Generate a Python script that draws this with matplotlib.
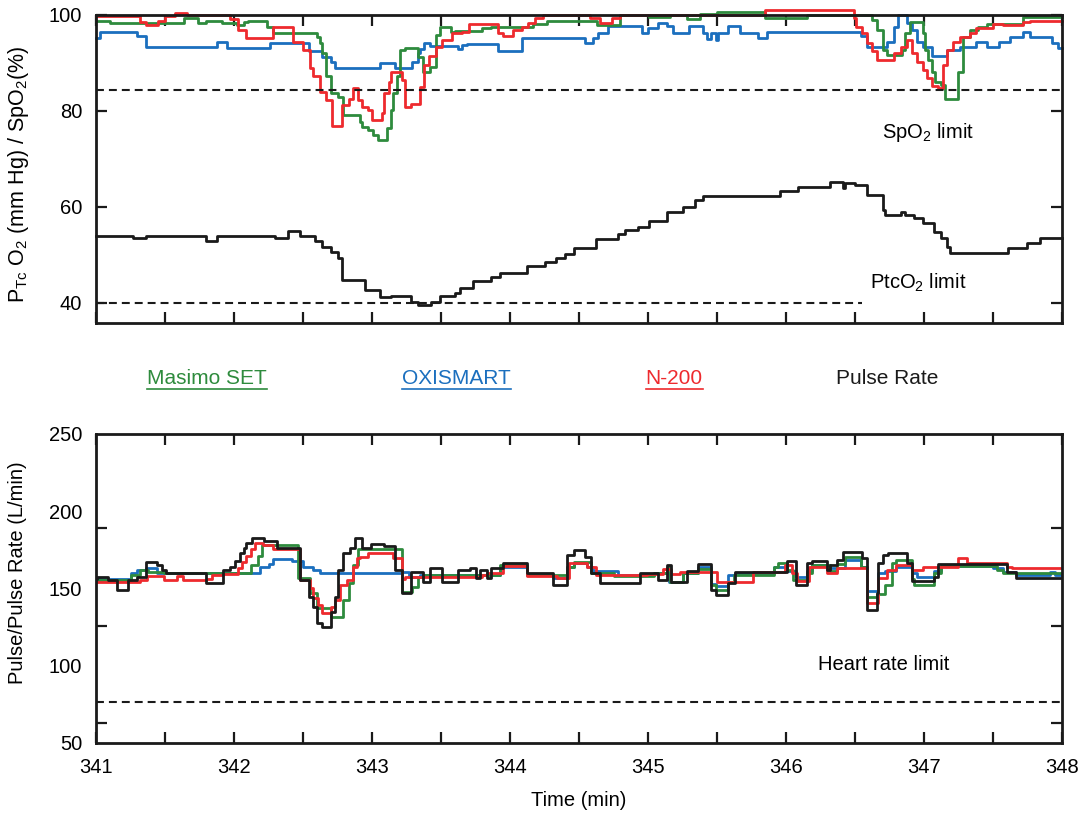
import matplotlib
matplotlib.use("Agg")
import matplotlib.pyplot as plt
from matplotlib.lines import Line2D
from matplotlib.ticker import MultipleLocator, FixedLocator

plt.rcParams['font.family'] = ['Liberation Sans', 'DejaVu Sans']
plt.rcParams['mathtext.default'] = 'regular'

GREEN = "#2e8b3d"
BLUE = "#1b6fbe"
RED = "#ee2a2e"
BLACK = "#1a1a1a"
FS = 14.5

# ---- top panel: SpO2 (%) and PtcO2 (mm Hg) ----
spo2_masimo_t = [341.00, 341.10, 341.64, 341.74, 341.80, 341.91, 342.02, 342.07, 342.10, 342.24,
                 342.28, 342.60, 342.62, 342.64, 342.67, 342.70, 342.75, 342.79, 342.91, 342.93,
                 342.97, 343.01, 343.04, 343.11, 343.14, 343.15, 343.18, 343.20, 343.24, 343.33,
                 343.37, 343.42, 343.46, 343.49, 343.57, 343.60, 343.80, 343.86, 344.17, 344.27,
                 344.63, 344.80, 345.01, 345.16, 345.28, 345.38, 345.50, 345.85, 346.15, 346.62,
                 346.66, 346.70, 346.73, 346.84, 346.86, 346.90, 346.99, 347.01, 347.03, 347.06,
                 347.08, 347.12, 347.15, 347.25, 347.28, 347.33, 347.39, 347.46, 347.72, 348.00]
spo2_masimo = [98.75, 98.3, 99.3, 98.4, 98.8, 98.3, 97.9, 98.5, 98.75, 97.6,
               96.2, 95.5, 94.1, 92.0, 87.2, 83.7, 83.0, 79.2, 77.8, 76.7,
               76.0, 75.0, 74.0, 76.4, 80.2, 83.7, 87.2, 92.7, 93.1, 91.3,
               88.2, 89.2, 95.8, 97.6, 96.5, 96.7, 97.2, 97.6, 98.1, 98.8,
               97.9, 100.0, 99.5, 100.0, 99.1, 100.3, 100.6, 99.3, 100.0, 99.0,
               96.9, 92.7, 91.7, 92.7, 96.2, 98.6, 96.2, 92.7, 90.6, 88.1,
               86.0, 85.4, 82.6, 88.2, 95.5, 96.9, 97.6, 98.1, 99.5, 99.5]

spo2_oxi_t = [341.00, 341.03, 341.30, 341.36, 341.88, 341.95, 342.26, 342.54, 342.64, 342.70,
              342.73, 343.06, 343.17, 343.29, 343.33, 343.35, 343.38, 343.42, 343.62, 343.65,
              343.69, 343.91, 344.09, 344.54, 344.60, 344.64, 344.71, 344.96, 345.00, 345.07,
              345.14, 345.18, 345.30, 345.40, 345.43, 345.46, 345.49, 345.51, 345.58, 345.67,
              345.80, 345.86, 346.54, 346.59, 346.73, 346.78, 346.81, 346.88, 346.91, 346.95,
              346.99, 347.06, 347.17, 347.26, 347.38, 347.46, 347.54, 347.62, 347.72, 347.77,
              347.93, 347.97, 348.00]
spo2_oxi = [95.3, 96.5, 95.6, 93.4, 94.4, 93.2, 94.2, 92.4, 91.3, 90.3,
            89.0, 90.1, 89.0, 90.3, 92.0, 93.0, 94.1, 93.5, 93.0, 93.8,
            94.0, 92.6, 95.3, 94.2, 95.3, 96.3, 97.7, 96.3, 97.2, 98.3,
            97.7, 96.2, 97.7, 96.2, 95.1, 96.2, 94.8, 96.2, 97.7, 96.3,
            95.3, 96.5, 95.6, 93.4, 94.4, 97.5, 100.0, 98.3, 96.9, 94.4,
            93.4, 91.5, 92.7, 93.4, 94.4, 93.4, 94.4, 95.4, 96.5, 95.4,
            94.2, 93.1, 93.1]

spo2_n200_t = [341.00, 341.32, 341.36, 341.45, 341.50, 341.57, 341.66, 341.97, 342.03, 342.09,
               342.28, 342.43, 342.50, 342.55, 342.57, 342.62, 342.67, 342.71, 342.78, 342.83,
               342.86, 342.90, 342.93, 342.97, 343.00, 343.07, 343.09, 343.12, 343.14, 343.22,
               343.24, 343.28, 343.35, 343.38, 343.41, 343.46, 343.51, 343.58, 343.65, 343.70,
               343.91, 343.95, 344.02, 344.09, 344.13, 344.18, 344.24, 344.58, 344.65, 344.74,
               344.80, 345.85, 346.49, 346.51, 346.55, 346.59, 346.62, 346.66, 346.78, 346.83,
               346.88, 346.91, 346.95, 346.99, 347.02, 347.06, 347.10, 347.14, 347.17, 347.21,
               347.26, 347.33, 347.38, 347.50, 347.57, 347.72, 347.77, 348.00]
spo2_n200 = [99.7, 98.6, 97.9, 98.8, 99.7, 100.5, 99.9, 99.2, 96.9, 95.3,
             97.4, 94.4, 92.7, 88.9, 87.2, 84.0, 82.3, 76.9, 81.25, 82.6,
             84.7, 82.3, 80.9, 80.2, 78.1, 79.5, 83.7, 86.1, 88.2, 86.5,
             80.9, 81.4, 85.1, 89.6, 91.5, 93.4, 94.8, 96.2, 96.5, 98.1,
             96.2, 95.6, 96.9, 97.6, 98.3, 99.3, 100.0, 99.3, 98.3, 99.3,
             100.0, 101.0, 99.3, 97.6, 96.2, 94.1, 92.4, 90.6, 92.0, 93.4,
             94.8, 92.0, 90.3, 88.5, 86.8, 85.2, 84.7, 89.6, 92.7, 94.4,
             95.5, 96.2, 97.2, 98.1, 97.9, 98.6, 98.8, 98.8]

ptco2_t = [341.00, 341.27, 341.36, 341.80, 341.88, 342.30, 342.39, 342.48, 342.59, 342.64,
           342.70, 342.75, 342.78, 342.95, 343.06, 343.14, 343.28, 343.33, 343.43, 343.49,
           343.60, 343.64, 343.73, 343.86, 343.93, 344.12, 344.25, 344.33, 344.40, 344.46,
           344.62, 344.78, 344.83, 344.93, 345.01, 345.14, 345.25, 345.34, 345.40, 345.96,
           346.09, 346.32, 346.41, 346.43, 346.50, 346.59, 346.70, 346.72, 346.83, 346.86,
           346.93, 346.99, 347.07, 347.12, 347.17, 347.19, 347.61, 347.75, 347.84, 348.00]
ptco2 = [54.0, 53.5, 54.0, 53.0, 54.0, 53.5, 55.0, 54.0, 53.0, 51.7,
         50.6, 49.3, 44.8, 42.7, 41.3, 41.5, 40.2, 39.6, 40.2, 41.5,
         42.0, 43.1, 44.6, 45.4, 46.2, 47.7, 48.5, 49.4, 50.2, 51.5,
         53.3, 54.4, 55.2, 55.8, 57.1, 59.0, 60.0, 61.5, 62.3, 63.3,
         64.2, 65.2, 64.0, 65.0, 64.6, 62.5, 59.4, 58.3, 59.0, 58.3,
         57.7, 56.7, 54.8, 53.5, 51.7, 50.4, 51.5, 52.5, 53.5, 53.5]

spo2_limit = 84.4
ptco2_limit = 40.0
ptco2_limit_end = 346.55

# ---- bottom panel: pulse rate ----
pr_masimo_t = [341.00, 341.25, 341.32, 341.38, 341.49, 342.12, 342.17, 342.20, 342.46, 342.55,
               342.60, 342.70, 342.79, 342.83, 342.86, 342.90, 343.22, 343.29, 343.33, 343.37,
               343.93, 344.12, 344.41, 344.46, 344.59, 344.75, 345.04, 345.14, 345.16, 345.25,
               345.36, 345.46, 345.49, 345.58, 345.62, 345.91, 345.94, 346.01, 346.05, 346.15,
               346.19, 346.32, 346.37, 346.43, 346.54, 346.59, 346.66, 346.72, 346.77, 346.80,
               346.91, 346.93, 347.07, 347.12, 347.53, 347.57, 348.00]
pr_masimo = [155.5, 158.6, 162.0, 160.9, 160.3, 164.9, 171.3, 178.3, 156.6, 146.9,
             137.2, 131.8, 142.6, 153.4, 164.9, 175.5, 147.5, 151.2, 157.7, 158.8,
             165.2, 158.8, 164.1, 167.4, 159.8, 158.0, 160.0, 164.0, 154.4, 160.0,
             162.5, 152.0, 149.0, 154.0, 158.8, 164.1, 166.8, 162.0, 155.5, 160.0,
             165.2, 161.0, 166.0, 170.4, 164.0, 144.3, 146.4, 152.2, 166.8, 168.4,
             156.0, 152.2, 160.0, 164.5, 162.0, 159.8, 159.8]

pr_oxi_t = [341.00, 341.03, 341.25, 341.30, 341.36, 341.44, 342.19, 342.25, 342.28, 342.42,
            342.50, 342.57, 342.62, 343.22, 343.27, 343.35, 343.93, 344.12, 344.31, 344.41,
            344.46, 344.56, 344.60, 344.78, 345.04, 345.15, 345.25, 345.36, 345.46, 345.49,
            345.58, 345.63, 345.91, 346.01, 346.07, 346.15, 346.19, 346.32, 346.43, 346.54,
            346.59, 346.67, 346.72, 346.80, 346.91, 346.95, 347.07, 347.12, 347.50, 347.57,
            347.67, 347.91, 347.95, 348.00]
pr_oxi = [157.0, 156.0, 160.3, 162.0, 163.4, 160.3, 164.0, 166.0, 169.3, 167.8,
          164.1, 162.0, 160.3, 160.9, 157.7, 158.8, 164.1, 158.8, 156.6, 164.1,
          166.3, 164.1, 161.0, 158.8, 160.0, 154.4, 160.0, 164.1, 153.0, 151.8,
          158.8, 159.8, 164.1, 161.0, 157.7, 161.0, 165.2, 163.0, 168.4, 164.0,
          148.1, 159.8, 161.0, 164.1, 160.0, 157.7, 161.0, 164.5, 163.5, 160.9,
          158.7, 160.6, 159.0, 159.0]

pr_n200_t = [341.00, 341.32, 341.37, 341.49, 341.59, 341.63, 341.80, 341.84, 341.92, 342.03,
             342.06, 342.09, 342.12, 342.15, 342.21, 342.28, 342.48, 342.55, 342.57, 342.61,
             342.64, 342.70, 342.73, 342.77, 342.82, 342.86, 342.89, 342.91, 342.97, 343.15,
             343.22, 343.24, 343.36, 343.80, 343.83, 343.95, 344.12, 344.34, 344.43, 344.56,
             344.62, 344.99, 345.11, 345.17, 345.23, 345.50, 345.76, 345.99, 346.04, 346.08,
             346.17, 346.30, 346.37, 346.59, 346.67, 346.73, 346.80, 346.91, 346.99, 347.25,
             347.31, 347.60, 347.64, 348.00]
pr_n200 = [153.9, 155.5, 158.0, 155.5, 158.0, 155.5, 156.0, 158.6, 159.7, 163.4,
           167.0, 171.3, 175.5, 179.3, 178.3, 175.5, 155.5, 150.0, 143.6, 139.3,
           133.9, 138.2, 142.6, 152.3, 155.5, 164.1, 169.5, 170.6, 173.2, 169.5,
           156.0, 157.5, 157.2, 158.8, 159.8, 164.5, 158.2, 156.6, 166.3, 164.1,
           158.5, 159.5, 162.6, 159.6, 160.9, 154.4, 160.9, 165.2, 160.0, 154.8,
           164.1, 160.0, 163.0, 140.4, 156.6, 162.0, 165.2, 162.0, 164.1, 170.0,
           166.8, 164.1, 163.0, 163.0]

pulse_t = [341.00, 341.01, 341.09, 341.15, 341.23, 341.30, 341.36, 341.44, 341.48, 341.51,
           341.80, 341.92, 341.97, 342.01, 342.04, 342.07, 342.09, 342.13, 342.22, 342.31,
           342.48, 342.54, 342.57, 342.60, 342.64, 342.70, 342.73, 342.75, 342.79, 342.84,
           342.88, 342.93, 342.99, 343.09, 343.17, 343.22, 343.28, 343.37, 343.42, 343.51,
           343.62, 343.71, 343.75, 343.78, 343.83, 343.86, 343.95, 344.12, 344.31, 344.41,
           344.46, 344.54, 344.59, 344.65, 344.94, 345.07, 345.14, 345.17, 345.28, 345.36,
           345.46, 345.49, 345.58, 345.63, 346.01, 346.07, 346.15, 346.19, 346.30, 346.32,
           346.37, 346.41, 346.55, 346.59, 346.66, 346.67, 346.70, 346.74, 346.88, 346.91,
           347.07, 347.10, 347.60, 347.67, 348.00]
pulse = [156.0, 157.6, 155.5, 149.0, 155.5, 157.6, 167.3, 164.9, 162.0, 160.0,
         153.4, 162.0, 164.0, 168.0, 173.0, 176.0, 179.3, 183.0, 180.6, 176.0,
         155.5, 144.7, 138.2, 127.4, 125.3, 135.0, 144.7, 162.0, 172.8, 176.0,
         182.5, 176.0, 179.0, 177.7, 162.0, 147.0, 160.5, 154.0, 163.0, 154.4,
         161.7, 163.0, 156.6, 162.0, 156.6, 163.0, 166.8, 159.8, 152.2, 171.5,
         174.9, 170.6, 159.8, 153.8, 159.8, 155.5, 165.2, 154.4, 161.0, 165.7,
         149.0, 145.8, 153.5, 160.7, 167.9, 152.2, 166.8, 167.5, 162.0, 165.0,
         168.7, 173.8, 169.5, 136.1, 146.9, 166.3, 171.5, 173.0, 166.3, 155.0,
         157.7, 165.9, 160.9, 156.6, 156.6]

hr_limit = 76.5
legend_names = ["Masimo SET", "OXISMART", "N-200", "Pulse Rate"]

fig = plt.figure(figsize=(10.89, 8.19), dpi=100)
ax1 = fig.add_axes([0.0882, 0.6056, 0.8870, 0.3761])
ax2 = fig.add_axes([0.0882, 0.0928, 0.8870, 0.3773])

lw = 2.0
ax1.plot(spo2_oxi_t, spo2_oxi, drawstyle="steps-post", color=BLUE, lw=lw, clip_on=False)
ax1.plot(spo2_masimo_t, spo2_masimo, drawstyle="steps-post", color=GREEN, lw=lw, clip_on=False)
ax1.plot(spo2_n200_t, spo2_n200, drawstyle="steps-post", color=RED, lw=lw, clip_on=False)
ax1.plot(ptco2_t, ptco2, drawstyle="steps-post", color=BLACK, lw=lw, clip_on=False)

dash = (0, (3.8, 2.4))
ax1.plot([341, 348], [spo2_limit, spo2_limit], color=BLACK, lw=1.5, ls=dash)
ax1.plot([341, ptco2_limit_end], [ptco2_limit, ptco2_limit], color=BLACK, lw=1.5, ls=dash)

ax1.text(347.03, 75.6, "SpO$_2$ limit", ha="center", va="center", fontsize=FS)
ax1.text(346.96, 44.2, "PtcO$_2$ limit", ha="center", va="center", fontsize=FS)

ax1.set_xlim(341, 348)
ax1.set_ylim(35.83, 100)
ax1.set_yticks([40, 60, 80, 100])
ax1.xaxis.set_major_locator(MultipleLocator(0.5))
ax1.set_xticklabels([])
ax1.set_ylabel(r"P$_{Tc}$ O$_2$ (mm Hg) / SpO$_2$(%)", fontsize=15.5)
ax1.yaxis.set_label_coords(-0.067, 0.484)

ax2.plot(pr_oxi_t, pr_oxi, drawstyle="steps-post", color=BLUE, lw=lw)
ax2.plot(pr_masimo_t, pr_masimo, drawstyle="steps-post", color=GREEN, lw=lw)
ax2.plot(pr_n200_t, pr_n200, drawstyle="steps-post", color=RED, lw=lw)
ax2.plot(pulse_t, pulse, drawstyle="steps-post", color=BLACK, lw=lw)
ax2.plot([341, 348], [hr_limit, hr_limit], color=BLACK, lw=1.5, ls=dash)
ax2.text(346.71, 101.1, "Heart rate limit", ha="center", va="center", fontsize=FS)

ax2.set_xlim(341, 348)
ax2.set_ylim(50, 250)
ax2.set_yticks([50, 100, 150, 200, 250])
ax2.yaxis.set_minor_locator(FixedLocator([63, 126, 189]))
ax2.xaxis.set_major_locator(MultipleLocator(1))
ax2.xaxis.set_minor_locator(MultipleLocator(0.5))
ax2.set_ylabel("Pulse/Pulse Rate (L/min)", fontsize=FS)
ax2.yaxis.set_label_coords(-0.071, 0.55)
ax2.set_xlabel("Time (min)", fontsize=FS)
ax2.xaxis.set_label_coords(0.5, -0.155)

for ax in (ax1, ax2):
    for s in ax.spines.values():
        s.set_linewidth(2.0)
        s.set_color(BLACK)
    ax.tick_params(which="both", direction="in", length=8, width=1.6,
                   top=True, right=True, labelsize=FS, color=BLACK)
    ax.tick_params(axis="x", which="both", pad=11)
    ax.tick_params(axis="y", which="both", pad=10)
ax2.tick_params(axis="y", which="major", length=0)
ax2.tick_params(axis="y", which="minor", length=8, width=1.6)

# colour-coded legend row between the panels
leg_x = [0.190, 0.419, 0.619, 0.815]
leg_c = [GREEN, BLUE, RED, BLACK]
texts = []
for name, x, c in zip(legend_names, leg_x, leg_c):
    texts.append(fig.text(x, 0.538, name, color=c, fontsize=15, ha="center", va="center"))

fig.canvas.draw()
r = fig.canvas.get_renderer()
W, H = fig.bbox.width, fig.bbox.height
for t, c in zip(texts[:3], leg_c[:3]):
    bb = t.get_window_extent(r)
    yl = (bb.y0 - 1) / H
    fig.add_artist(Line2D([bb.x0 / W, bb.x1 / W], [yl, yl], color=c, lw=1.2,
                          transform=fig.transFigure))

fig.savefig("out.png", dpi=100)
